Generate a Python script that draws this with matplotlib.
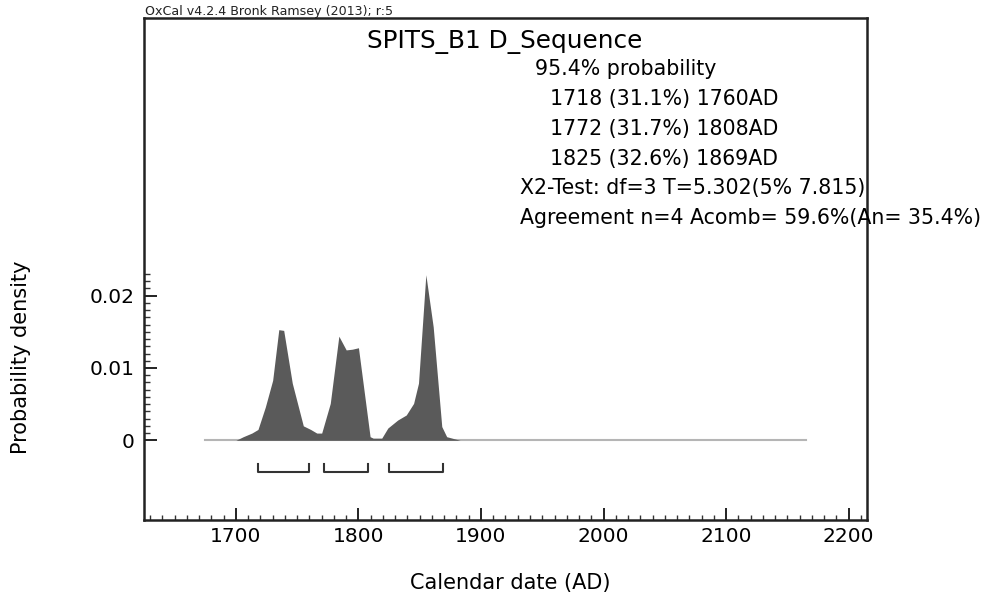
import matplotlib
matplotlib.use("Agg")
import matplotlib.pyplot as plt
from matplotlib.ticker import FixedLocator

plt.rcParams['font.family'] = ['DejaVu Sans']

# ---- data ----
years = [1700, 1706, 1713, 1718, 1724, 1730, 1735, 1739, 1746, 1755, 1761, 1766, 1770,
         1777, 1784, 1790, 1795, 1800, 1809.5, 1812, 1819, 1824, 1832, 1839, 1845,
         1849, 1855, 1861, 1868, 1872, 1883]
density = [0.0, 0.0005, 0.0010, 0.0015, 0.0046, 0.0083, 0.0153, 0.0152, 0.0079, 0.0020,
           0.0015, 0.0010, 0.0010, 0.0051, 0.0144, 0.0125, 0.0126, 0.0128, 0.0005, 0.0003,
           0.0003, 0.0017, 0.0028, 0.0035, 0.0051, 0.0079, 0.0229, 0.0157, 0.0019, 0.0005, 0.0]
baseline_range = [1675, 2165]
range_starts = [1718, 1772, 1825]
range_ends = [1760, 1808, 1869]
range_pcts = ["31.1%", "31.7%", "32.6%"]
x_major = [1700, 1800, 1900, 2000, 2100, 2200]
y_major = [0, 0.01, 0.02]
y_major_labels = ["0", "0.01", "0.02"]

W, H = 990, 598
fig = plt.figure(figsize=(W / 100, H / 100), dpi=100)
L, R, T, B = 144, 867, 18, 520
ax = fig.add_axes([L / W, 1 - B / H, (R - L) / W, (B - T) / H])
ax.set_xlim(1625, 2215)
ax.set_ylim(-0.01102, 0.0584)

# baseline
ax.plot(baseline_range, [0, 0], color='#b5b5b5', lw=1.5, zorder=1)
ax.fill_between(years, density, 0, color='#5a5a5a', lw=0, zorder=2)

# range brackets
top, bot = -0.0033, -0.0044
for a, b in zip(range_starts, range_ends):
    ax.plot([a, a, b, b], [top, bot, bot, top], color='#333333', lw=1.5, zorder=3)

for s in ax.spines.values():
    s.set_linewidth(1.8)
    s.set_color('#222222')

ax.xaxis.set_major_locator(FixedLocator(x_major))
ax.xaxis.set_minor_locator(FixedLocator(list(range(1630, 2215, 10))))
ax.yaxis.set_major_locator(FixedLocator(y_major))
ax.set_yticklabels(y_major_labels)
ax.yaxis.set_minor_locator(FixedLocator([i * 0.001 for i in range(0, 24)]))
ax.tick_params(axis='both', which='major', direction='in', length=9, width=1.4,
               labelsize=14.5, color='#222222', top=False, right=False)
ax.tick_params(axis='x', which='minor', direction='in', length=3.5, width=1.0, color='#333333')
ax.tick_params(axis='y', which='minor', direction='in', length=4.5, width=1.0, color='#333333')
ax.tick_params(axis='x', which='major', pad=5)
ax.tick_params(axis='y', which='major', pad=7)

def px(x, y):
    return x / W, 1 - y / H

fig.text(*px(145, 11), "OxCal v4.2.4 Bronk Ramsey (2013); r:5", fontsize=9.1,
         ha='left', va='center', color='#222222')
fig.text(*px(505, 42), "SPITS_B1 D_Sequence", fontsize=17.8, ha='center', va='center')
fig.text(*px(535, 69), "95.4% probability", fontsize=14.8, ha='left', va='center')
for i, (a, p, b) in enumerate(zip(range_starts, range_pcts, range_ends)):
    fig.text(*px(550, 99 + 30 * i), f"{a} ({p}) {b}AD", fontsize=14.8, ha='left', va='center')
fig.text(*px(520, 188), "X2-Test: df=3 T=5.302(5% 7.815)", fontsize=14.8, ha='left', va='center')
fig.text(*px(520, 218), "Agreement n=4 Acomb= 59.6%(An= 35.4%)", fontsize=14.8,
         ha='left', va='center')

fig.text(*px(21, 357), "Probability density", fontsize=15, rotation=90,
         ha='center', va='center')
fig.text(*px(510, 583), "Calendar date (AD)", fontsize=15, ha='center', va='center')

fig.savefig("out.png", dpi=100)
